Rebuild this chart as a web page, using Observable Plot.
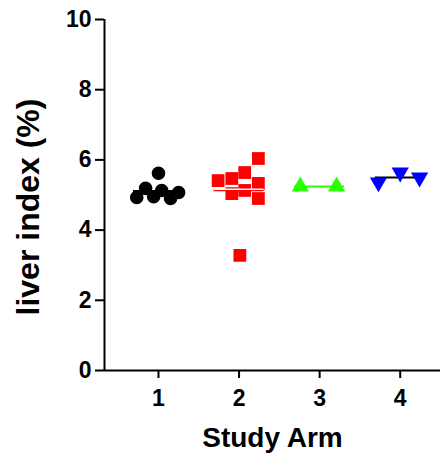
<!DOCTYPE html>
<html>
<head>
<meta charset="utf-8">
<script src="https://cdn.jsdelivr.net/npm/d3@7"></script>
<script src="https://cdn.jsdelivr.net/npm/@observablehq/plot@0.6"></script>
<style>
  html, body { margin: 0; padding: 0; background: #fff; }
  svg { display: block; }
</style>
</head>
<body>
<div id="chart"></div>
<script>
// Study arms (x tick labels)
const arms = [1, 2, 3, 4];
const yTicks = [0, 2, 4, 6, 8, 10];

// Liver index (%) per animal
const arm1Values = [4.93, 5.19, 4.95, 5.62, 5.13, 4.90, 5.07];
const arm2Values = [5.41, 5.47, 5.64, 6.04, 5.33, 5.04, 5.13, 4.90, 3.28];
const arm3Values = [5.24, 5.24];
const arm4Values = [5.36, 5.64, 5.50];

// horizontal scatter (jitter) of each point within its arm, in arm units
const arm1Jitter = [-0.27, -0.16, -0.06, 0, 0.04, 0.15, 0.25];
const arm2Jitter = [-0.26, -0.09, 0.07, 0.24, 0.24, -0.09, 0.07, 0.24, 0.01];
const arm3Jitter = [-0.24, 0.21];
const arm4Jitter = [-0.27, 0, 0.24];

const armColors = ["#000000", "#ff0000", "#2cff00", "#0000ff"];
const meanColors = ["#000000", "#ff0000", "#2cff00", "#000000"];
const armSymbols = ["circle", "square", "triangle", "triangle"];
const armRotate = [0, 0, 0, 180];
const armR = [6.8, 7.2, 6.4, 6.4];

const values = [arm1Values, arm2Values, arm3Values, arm4Values];
const jitters = [arm1Jitter, arm2Jitter, arm3Jitter, arm4Jitter];

const points = [];
values.forEach((vals, i) => vals.forEach((v, j) => points.push({arm: arms[i], idx: i, x: arms[i] + jitters[i][j], y: v})));
const means = values.map((vals, i) => ({arm: arms[i], idx: i, mean: d3.mean(vals)}));
const halfWidth = 0.31;

const font = "'Liberation Sans', Arial, sans-serif";

const dotMarks = [0, 1, 2, 3].map(i => Plot.dot(points.filter(d => d.idx === i), {
  x: "x", y: "y", symbol: () => armSymbols[i], r: armR[i], rotate: armRotate[i],
  fill: armColors[i], stroke: "none"
}));

const chart = Plot.plot({
  width: 444,
  height: 454,
  marginLeft: 104,
  marginRight: 4,
  marginTop: 19,
  marginBottom: 84,
  style: {fontFamily: font, fontWeight: "bold", background: "#fff", overflow: "visible"},
  x: {domain: [0.33, 4.5]},
  y: {domain: [0, 10]},
  marks: [
    Plot.axisY({ticks: yTicks, tickSize: 9, tickPadding: 4, strokeWidth: 2, fontSize: 23,
      label: "liver index (%)", labelAnchor: "center", labelArrow: "none", labelOffset: 88}),
    Plot.axisX({ticks: arms, tickFormat: d3.format("d"), tickSize: 8, tickPadding: 11, strokeWidth: 2, fontSize: 23,
      label: "Study Arm", labelAnchor: "center", labelArrow: "none", labelOffset: 76}),
    Plot.ruleX([0.33], {y1: 0, y2: 10, stroke: "#000", strokeWidth: 2}),
    Plot.ruleY([0], {x1: 0.33, x2: 4.5, stroke: "#000", strokeWidth: 2}),
    Plot.ruleY(means, {y: "mean", x1: d => d.arm - halfWidth, x2: d => d.arm + halfWidth,
      stroke: d => meanColors[d.idx], strokeWidth: 2}),
    ...dotMarks,
    Plot.ruleY(means.filter(d => d.idx === 1), {y: "mean", x1: d => d.arm - halfWidth, x2: d => d.arm + halfWidth,
      stroke: "#fff", strokeWidth: 1.5, dy: -1})
  ]
});

// axis title sizes and placement
chart.querySelectorAll("[aria-label='y-axis label']").forEach(g => {
  const tr = g.getAttribute("transform") || "";
  g.setAttribute("transform", (tr + " translate(0,12)").trim());
  g.querySelectorAll("text").forEach(t => {
    t.setAttribute("font-size", 32);
    t.style.fontSize = "32px";
  });
});
chart.querySelectorAll("[aria-label='x-axis label'] text").forEach(t => {
  t.setAttribute("font-size", 28);
  t.style.fontSize = "28px";
});
document.getElementById("chart").appendChild(chart);
</script>
</body>
</html>
